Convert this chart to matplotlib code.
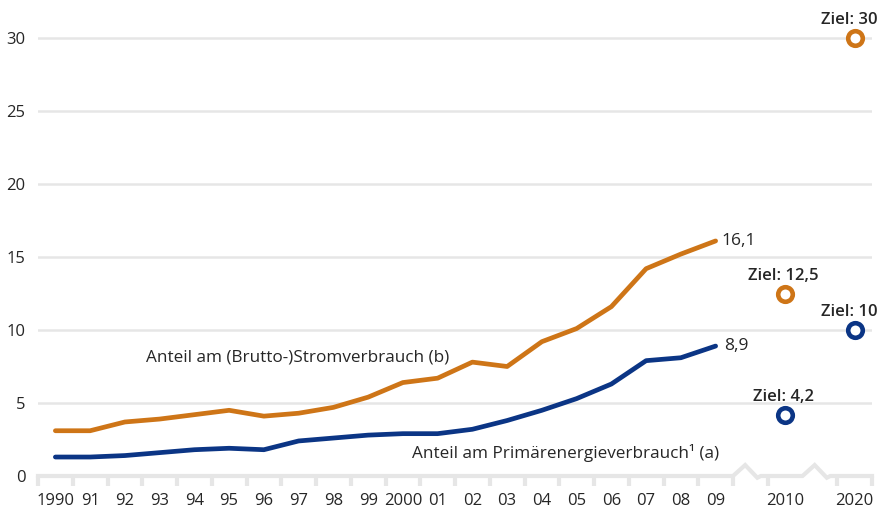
import matplotlib
matplotlib.use("Agg")
import matplotlib.pyplot as plt

# ── Data ─────────────────────────────────────────────────────────────────────
years = list(range(1990, 2010))
year_labels = ["1990", "91", "92", "93", "94", "95", "96", "97", "98", "99",
               "2000", "01", "02", "03", "04", "05", "06", "07", "08", "09"]
strom = [3.1, 3.1, 3.7, 3.9, 4.2, 4.5, 4.1, 4.3, 4.7, 5.4,
         6.4, 6.7, 7.8, 7.5, 9.2, 10.1, 11.6, 14.2, 15.2, 16.1]
primaer = [1.3, 1.3, 1.4, 1.6, 1.8, 1.9, 1.8, 2.4, 2.6, 2.8,
           2.9, 2.9, 3.2, 3.8, 4.5, 5.3, 6.3, 7.9, 8.1, 8.9]
target_labels = ["2010", "2020"]
target_strom = [12.5, 30]
target_primaer = [4.2, 10]
target_text_strom = ["Ziel: 12,5", "Ziel: 30"]
target_text_primaer = ["Ziel: 4,2", "Ziel: 10"]

ORANGE = "#CE7517"
BLUE = "#0B3585"
GRID = "#E6E6E6"
TEXT = "#262626"

plt.rcParams["font.family"] = ["Open Sans", "DejaVu Sans"]

fig = plt.figure(figsize=(8.79, 5.12), dpi=100)
ax = fig.add_axes([38 / 879, 36 / 512, 834 / 879, 476 / 512])

x_years = list(range(len(years)))
x_targets = [len(years) + 1, len(years) + 3]

ax.set_xlim(-0.5, 23.5)
ax.set_ylim(0, 476 / 14.6)

for v in [5, 10, 15, 20, 25, 30]:
    ax.axhline(v, color=GRID, linewidth=1.8, zorder=0)

# baseline with axis breaks
bx = [-0.5, 19.5, 19.85, 20.2, 20.3, 21.5, 21.85, 22.2, 22.3, 23.5]
by = [0, 0, 0.75, -0.12, 0, 0, 0.75, -0.12, 0, 0]
ax.plot(bx, by, color=GRID, linewidth=3, clip_on=False, zorder=1,
        solid_joinstyle="miter")

ax.plot(x_years, strom, color=ORANGE, linewidth=3.4, zorder=3,
        solid_capstyle="round")
ax.plot(x_years, primaer, color=BLUE, linewidth=3.4, zorder=3,
        solid_capstyle="round")

ax.plot(x_targets, target_strom, linestyle="none", marker="o", markersize=10.5,
        markerfacecolor="white", markeredgecolor=ORANGE, markeredgewidth=3.3,
        clip_on=False, zorder=4)
ax.plot(x_targets, target_primaer, linestyle="none", marker="o", markersize=10.5,
        markerfacecolor="white", markeredgecolor=BLUE, markeredgewidth=3.3,
        clip_on=False, zorder=4)

# label offsets: 2020 labels sit a bit left of their marker
label_dx = [-1, -4]
for xt, yv, t, dx in zip(x_targets, target_strom, target_text_strom, label_dx):
    ax.annotate(t, (xt, yv), xytext=(dx, 7), textcoords="offset points",
                ha="center", va="bottom", fontsize=12, fontweight="semibold",
                color=TEXT, annotation_clip=False)
for xt, yv, t, dx in zip(x_targets, target_primaer, target_text_primaer, label_dx):
    ax.annotate(t, (xt, yv), xytext=(dx, 7), textcoords="offset points",
                ha="center", va="bottom", fontsize=12, fontweight="semibold",
                color=TEXT, annotation_clip=False)

ax.annotate("16,1", (x_years[-1], strom[-1]), xytext=(4, 0),
            textcoords="offset points", ha="left", va="center",
            fontsize=12.5, color=TEXT)
ax.annotate("8,9", (x_years[-1], primaer[-1]), xytext=(6, 0),
            textcoords="offset points", ha="left", va="center",
            fontsize=12.5, color=TEXT)

ax.text(2.6, 8.1, "Anteil am (Brutto-)Stromverbrauch (b)", fontsize=12.3,
        color=TEXT, ha="left", va="center")
ax.text(10.25, 1.6, "Anteil am Primärenergieverbrauch¹ (a)", fontsize=12.3,
        color=TEXT, ha="left", va="center")

for s in ax.spines.values():
    s.set_visible(False)

ax.set_xticks(x_years + x_targets)
ax.set_xticklabels(year_labels + target_labels, fontsize=12, color=TEXT)
ax.set_xticks([i - 0.5 for i in range(len(years) + 1)] + [20.5, 22.5, 23.5],
              minor=True)
ax.tick_params(axis="x", which="major", length=0, pad=12)
ax.tick_params(axis="x", which="minor", length=7, width=3, color=GRID,
               direction="out")

ax.set_yticks([0, 5, 10, 15, 20, 25, 30])
ax.set_yticklabels(["0", "5", "10", "15", "20", "25", "30"], fontsize=12,
                   color=TEXT)
ax.tick_params(axis="y", length=0, pad=9)

fig.savefig("out.png", dpi=100)
